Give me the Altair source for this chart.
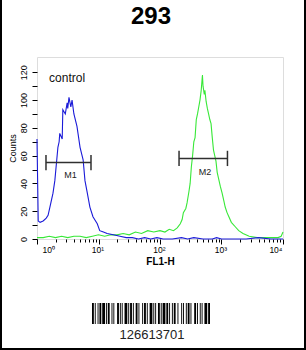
import altair as alt
import pandas as pd

# ---------------- data ----------------
title_text = "293"
x_title = "FL1-H"
y_title = "Counts"

# blue "control" histogram: log10(FL1-H) and counts
blue_exp = [0.00, 0.02, 0.05, 0.10, 0.15, 0.18, 0.21, 0.26, 0.29, 0.34, 0.36, 0.37, 0.41,
            0.42, 0.46, 0.49, 0.50, 0.52, 0.55, 0.57, 0.60, 0.65, 0.70, 0.75, 0.78, 0.81,
            0.86, 0.91, 0.98, 1.02, 1.08, 1.14, 1.24, 1.35, 1.45, 1.55, 1.65, 1.75, 1.85,
            1.95, 2.05, 2.20, 2.35, 2.45, 2.55, 2.70, 2.85, 2.92, 3.00, 3.20, 3.40, 3.60,
            3.80, 4.00]
blue_cnt = [72, 13, 12, 13, 15, 17, 23, 33, 42, 66, 70, 76, 72,
            93, 90, 98, 94, 102, 95, 100, 90, 81, 66, 57, 42, 35,
            23, 16, 11, 6, 5, 4, 3, 2, 1, 1, 0, 1, 0,
            1, 0, 0, 1, 0, 1, 0, 0, 1, 0, 0, 0, 1,
            0, 0]

# green sample histogram
green_exp = [0.00, 0.10, 0.20, 0.30, 0.40, 0.50, 0.60, 0.70, 0.80, 0.90, 1.00, 1.10, 1.20,
             1.30, 1.40, 1.50, 1.60, 1.70, 1.80, 1.90, 2.00, 2.08, 2.15, 2.22, 2.28, 2.33,
             2.36, 2.38, 2.42, 2.44, 2.47, 2.49, 2.51, 2.53, 2.55, 2.57, 2.59, 2.61, 2.63,
             2.65, 2.67, 2.69, 2.70, 2.72, 2.73, 2.75, 2.77, 2.79, 2.81, 2.83, 2.85, 2.87,
             2.89, 2.91, 2.93, 2.95, 2.98, 3.01, 3.04, 3.06, 3.09, 3.12, 3.16, 3.22, 3.28,
             3.35, 3.45, 3.58, 3.70, 3.84, 3.92, 3.97, 4.00]
green_cnt = [1, 1, 2, 1, 2, 1, 2, 2, 1, 2, 3, 2, 3,
             3, 4, 3, 5, 4, 6, 5, 6, 5, 7, 6, 8, 11,
             14, 19, 22, 26, 34, 40, 52, 60, 70, 73, 86, 90, 95,
             100, 107, 118, 110, 104, 107, 99, 94, 90, 86, 83, 73, 64,
             60, 56, 48, 44, 38, 33, 27, 23, 19, 16, 12, 9, 6,
             4, 2, 1, 1, 1, 1, 2, 5]

# axis ticks
x_major = [1, 10, 100, 1000, 10000]
x_major_labels = ["10⁰", "10¹", "10²", "10³", "10⁴"]
x_minor = [2, 3, 4, 5, 6, 7, 8, 9,
           20, 30, 40, 50, 60, 70, 80, 90,
           200, 300, 400, 500, 600, 700, 800, 900,
           2000, 3000, 4000, 5000, 6000, 7000, 8000, 9000]
y_ticks = [0, 10, 20, 30, 40, 50, 60, 70, 80, 90, 100, 110, 120]
y_domain = [0, 131]

# gates / markers
marker_names = ["M1", "M2"]
marker_lo = [1.40, 204]
marker_hi = [7.55, 1250]
marker_level = [55, 58]
marker_half = [5.5, 5.5]
marker_label_x = [3.5, 540]
marker_label_y = [44, 46]

control_label = "control"
control_x = 1.57
control_y = 113

# barcode (bar, space, bar, space ... widths in modules)
barcode_widths = [2, 1, 1, 2, 1, 1, 2, 1, 3, 1, 1, 1, 2, 2, 1, 1, 1, 3, 2, 1,
                  1, 1, 1, 2, 3, 1, 1, 1, 2, 1, 1, 2, 2, 1, 1, 3, 1, 1, 2, 1,
                  1, 2, 3, 1, 1, 1, 1, 2, 2, 1, 1, 1, 3, 1, 2, 1, 1, 2, 1, 1,
                  2, 2, 1, 3, 1, 1, 1, 2, 1, 1, 2, 1, 1, 3, 2, 1, 1, 2, 1, 1,
                  1, 2, 3, 1, 2]
barcode_number = "126613701"

# ---------------- tables ----------------
blue_df = pd.DataFrame({"fl": [10 ** e for e in blue_exp], "count": blue_cnt})
green_df = pd.DataFrame({"fl": [10 ** e for e in green_exp], "count": green_cnt})

mk_df = pd.DataFrame({"name": marker_names, "lo": marker_lo, "hi": marker_hi,
                      "lvl": marker_level,
                      "lx": marker_label_x, "ly": marker_label_y})
mk_ends = pd.DataFrame({"x": marker_lo + marker_hi,
                        "top": [l + h for l, h in zip(marker_level, marker_half)] * 2,
                        "bot": [l - h for l, h in zip(marker_level, marker_half)] * 2})
ctrl_df = pd.DataFrame({"x": [control_x], "y": [control_y], "t": [control_label]})

bars = []
pos = 0
for i, w in enumerate(barcode_widths):
    if i % 2 == 0:
        bars.append({"s": pos, "e": pos + w})
    pos += w
bar_df = pd.DataFrame(bars)
bar_total = pos
num_df = pd.DataFrame({"t": [barcode_number]})
title_df = pd.DataFrame({"t": [title_text]})
one_df = pd.DataFrame({"k": [0]})

FONT = "Liberation Sans"
xs = alt.Scale(type="log", domain=[1, 10000], nice=False)
ys = alt.Scale(domain=y_domain, nice=False, zero=True)

label_js = "[" + ",".join("'" + s + "'" for s in x_major_labels) + "]"
ax_major = alt.Axis(orient="bottom", values=x_major,
                    labelExpr=label_js + "[round(log(datum.value) / LN10)]",
                    tickSize=5, tickColor="black",
                    labelFontSize=8.5, labelPadding=1, labelFont=FONT, labelColor="black",
                    labelOffset={"condition": {"test": "datum.value <= 1", "value": 5}, "value": -1},
                    domain=False, grid=False, title=x_title, titleFont=FONT,
                    titleFontSize=10, titleFontWeight="bold", titlePadding=3, titleColor="black")
ax_minor = alt.Axis(orient="bottom", values=x_minor, labels=False, tickSize=3, tickColor="black",
                    domain=False, grid=False, title=None)
ax_y = alt.Axis(orient="left", values=y_ticks, labelExpr="datum.value % 20 == 0 ? datum.label : ''",
                labelAngle=270, labelAlign="center", labelBaseline="bottom",
                labelFontSize=9, labelFont=FONT, labelColor="black", labelPadding=4,
                tickSize=5, tickColor="black", domain=False, grid=False,
                title=y_title, titleFont=FONT, titleFontSize=9, titleFontWeight="normal",
                titlePadding=2, titleColor="black")

blue = alt.Chart(blue_df).mark_line(color="#1a1ad8", strokeWidth=1.1, interpolate="linear").encode(
    x=alt.X("fl:Q", scale=xs, axis=ax_major),
    y=alt.Y("count:Q", scale=ys, axis=ax_y))
green = alt.Chart(green_df).mark_line(color="#38e838", strokeWidth=1.1).encode(
    x=alt.X("fl:Q", scale=xs, axis=None),
    y=alt.Y("count:Q", scale=ys, axis=None))
gate = alt.Chart(mk_df).mark_rule(color="#303030", strokeWidth=1.5).encode(
    x=alt.X("lo:Q", scale=xs, axis=ax_minor), x2="hi:Q",
    y=alt.Y("lvl:Q", scale=ys, axis=None))
gate_ends = alt.Chart(mk_ends).mark_rule(color="#303030", strokeWidth=1.5).encode(
    x=alt.X("x:Q", scale=xs, axis=None),
    y=alt.Y("bot:Q", scale=ys, axis=None), y2="top:Q")
gate_lbl = alt.Chart(mk_df).mark_text(font=FONT, fontSize=9, color="#222222",
                                      baseline="alphabetic").encode(
    x=alt.X("lx:Q", scale=xs, axis=None),
    y=alt.Y("ly:Q", scale=ys, axis=None), text="name:N")
ctrl = alt.Chart(ctrl_df).mark_text(font=FONT, fontSize=12, color="#111111", align="left",
                                    baseline="alphabetic").encode(
    x=alt.X("x:Q", scale=xs, axis=None),
    y=alt.Y("y:Q", scale=ys, axis=None), text="t:N")
barcode = alt.Chart(bar_df).mark_rect(color="black").encode(
    x=alt.X("s:Q", scale=alt.Scale(domain=[0, bar_total], range=[55, 173], nice=False, zero=False), axis=None),
    x2="e:Q", y=alt.value(246), y2=alt.value(267))
barnum = alt.Chart(num_df).mark_text(font=FONT, fontSize=13, color="#222222",
                                     baseline="alphabetic").encode(
    x=alt.value(115), y=alt.value(282), text="t:N")
title = alt.Chart(title_df).mark_text(font=FONT, fontSize=24, fontWeight="bold", color="black",
                                      baseline="alphabetic").encode(
    x=alt.value(114), y=alt.value(-33), text="t:N")
border_l = alt.Chart(one_df).mark_rule(color="black", strokeWidth=2).encode(
    x=alt.value(-36), y=alt.value(-57), y2=alt.value(293))
border_r = alt.Chart(one_df).mark_rule(color="black", strokeWidth=2).encode(
    x=alt.value(268), y=alt.value(-57), y2=alt.value(293))
border_b = alt.Chart(one_df).mark_rule(color="black", strokeWidth=2).encode(
    x=alt.value(-37), x2=alt.value(269), y=alt.value(292))

chart = alt.layer(green, blue, gate, gate_ends, gate_lbl, ctrl, barcode, barnum, title,
                  border_l, border_r, border_b).resolve_scale(
    x="independent", y="independent").resolve_axis(x="independent", y="independent").properties(
    width=246, height=182,
    padding={"left": 37, "top": 57, "right": 23, "bottom": 111},
    autosize=alt.AutoSizeParams(type="none"),
).configure_view(stroke="black", strokeWidth=1).configure(background="white")

chart.save("out.html", embed_options={"renderer": "svg", "actions": False})
